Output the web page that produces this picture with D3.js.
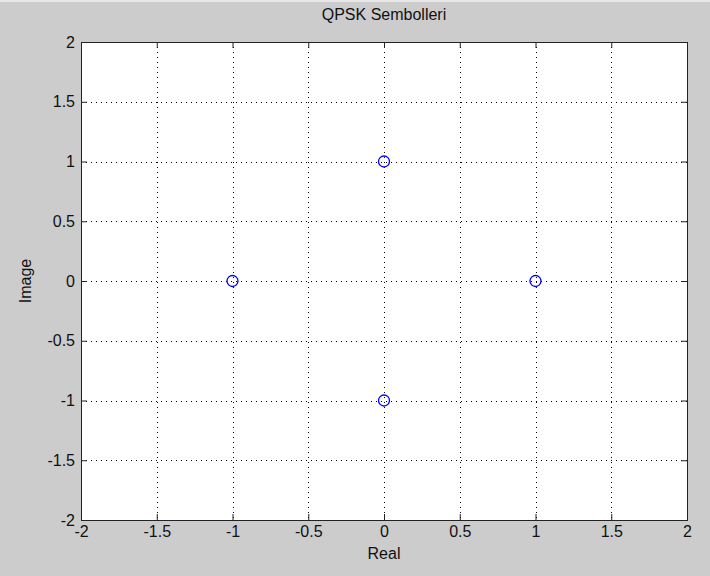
<!DOCTYPE html>
<html>
<head>
<meta charset="utf-8">
<script src="https://cdn.jsdelivr.net/npm/d3@7"></script>
<style>
  body { margin: 0; background: #cccccc; }
  text { font-family: Arial, "Liberation Sans", sans-serif; fill: #111; }
</style>
</head>
<body>
<div id="chart"></div>
<script>
// QPSK symbols
const realValues = [1, 0, -1, 0];
const imagValues = [0, 1, 0, -1];
const xTicks = [-2, -1.5, -1, -0.5, 0, 0.5, 1, 1.5, 2];
const yTicks = [-2, -1.5, -1, -0.5, 0, 0.5, 1, 1.5, 2];
const title = 'QPSK Sembolleri';
const xLabel = 'Real';
const yLabel = 'Image';

const width = 710;
const height = 576;
const margin = { top: 42, right: 23, bottom: 56, left: 81 };
const tickLen = 6;

const svg = d3
  .select('#chart')
  .append('svg')
  .attr('width', width)
  .attr('height', height);

svg.append('rect').attr('width', width).attr('height', height).attr('fill', '#cccccc');
svg.append('rect').attr('width', width).attr('height', 2).attr('fill', '#e8e8e8');

const x = d3.scaleLinear().domain([-2, 2]).range([margin.left, width - margin.right]);
const y = d3.scaleLinear().domain([-2, 2]).range([height - margin.bottom, margin.top]);

const plot = svg.append('g');

plot
  .append('rect')
  .attr('x', x(-2))
  .attr('y', y(2))
  .attr('width', x(2) - x(-2))
  .attr('height', y(-2) - y(2))
  .attr('fill', '#fff');

// dotted grid
const grid = plot.append('g').attr('stroke', '#000').attr('stroke-width', 1).attr('stroke-dasharray', '1,4');
grid
  .selectAll('.gx')
  .data(xTicks.slice(1, -1))
  .enter()
  .append('line')
  .attr('x1', d => Math.round(x(d)) + 0.5)
  .attr('x2', d => Math.round(x(d)) + 0.5)
  .attr('y1', y(2))
  .attr('y2', y(-2));
grid
  .selectAll('.gy')
  .data(yTicks.slice(1, -1))
  .enter()
  .append('line')
  .attr('y1', d => Math.round(y(d)) + 0.5)
  .attr('y2', d => Math.round(y(d)) + 0.5)
  .attr('x1', x(-2))
  .attr('x2', x(2));

// axes with inward ticks on all four sides
const fmt = d => String(d);
const axisStyle = g => {
  g.select('.domain').remove();
  g.selectAll('.tick line').attr('stroke', '#222');
  g.selectAll('.tick text').style('font-size', '16px').attr('fill', '#111');
};

svg
  .append('g')
  .attr('transform', `translate(0,${y(-2)})`)
  .call(d3.axisBottom(x).tickValues(xTicks).tickFormat(fmt).tickSizeInner(-tickLen).tickPadding(6))
  .call(axisStyle);
svg
  .append('g')
  .attr('transform', `translate(0,${y(2)})`)
  .call(d3.axisTop(x).tickValues(xTicks).tickFormat('').tickSizeInner(-tickLen))
  .call(axisStyle);
svg
  .append('g')
  .attr('transform', `translate(${x(-2)},0)`)
  .call(d3.axisLeft(y).tickValues(yTicks).tickFormat(fmt).tickSizeInner(-tickLen).tickPadding(6))
  .call(axisStyle);
svg
  .append('g')
  .attr('transform', `translate(${x(2)},0)`)
  .call(d3.axisRight(y).tickValues(yTicks).tickFormat('').tickSizeInner(-tickLen))
  .call(axisStyle);

// box
svg
  .append('rect')
  .attr('x', x(-2) + 0.5)
  .attr('y', y(2) + 0.5)
  .attr('width', x(2) - x(-2))
  .attr('height', y(-2) - y(2))
  .attr('fill', 'none')
  .attr('stroke', '#222');

// symbols
svg
  .append('g')
  .selectAll('circle')
  .data(realValues.map((r, i) => [r, imagValues[i]]))
  .enter()
  .append('circle')
  .attr('cx', d => x(d[0]))
  .attr('cy', d => y(d[1]))
  .attr('r', 5.5)
  .attr('fill', 'none')
  .attr('stroke', '#0000ff')
  .attr('stroke-width', 1.3);

svg
  .append('text')
  .attr('x', (x(-2) + x(2)) / 2)
  .attr('y', 20)
  .attr('text-anchor', 'middle')
  .style('font-size', '16px')
  .text(title);

svg
  .append('text')
  .attr('x', (x(-2) + x(2)) / 2)
  .attr('y', 559)
  .attr('text-anchor', 'middle')
  .style('font-size', '16px')
  .text(xLabel);

svg
  .append('text')
  .attr('transform', `translate(31,${(y(-2) + y(2)) / 2}) rotate(-90)`)
  .attr('text-anchor', 'middle')
  .style('font-size', '16px')
  .text(yLabel);
</script>
</body>
</html>
